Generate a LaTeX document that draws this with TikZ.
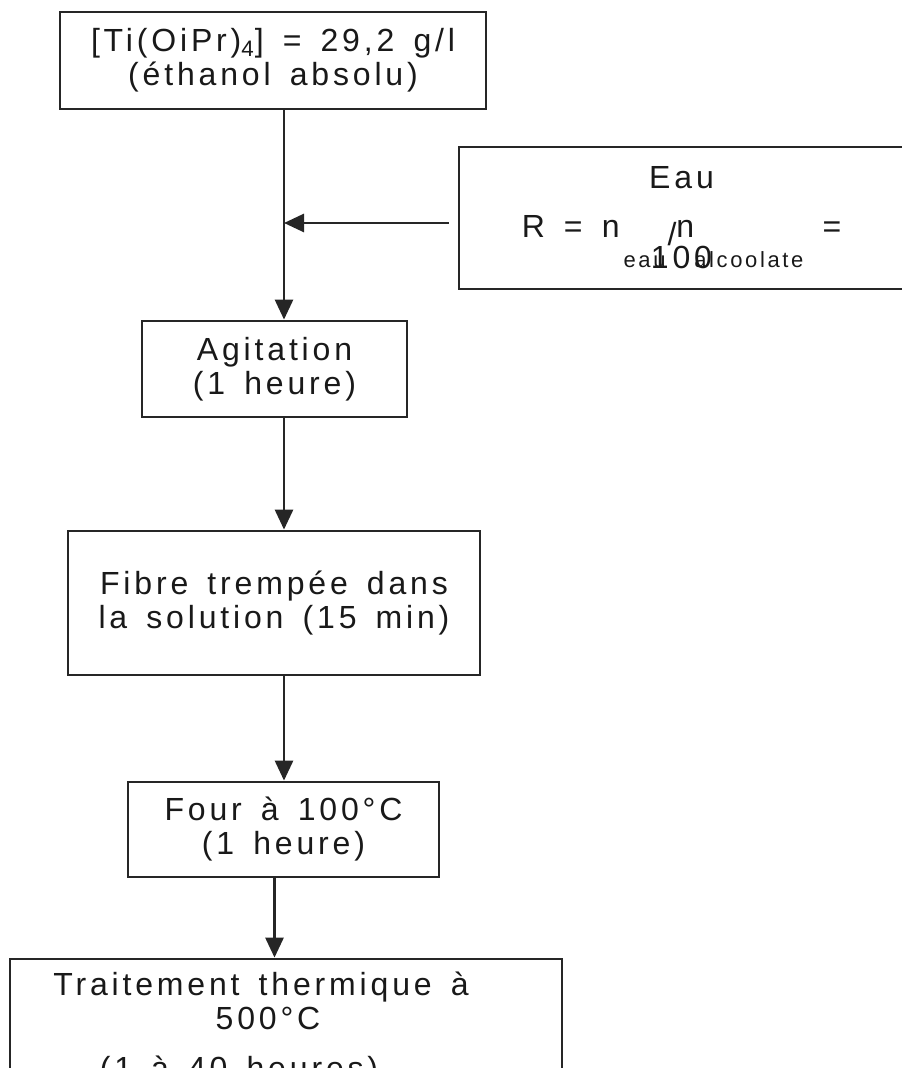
\documentclass[tikz,border=0pt]{standalone}
\usepackage{fontspec}
\setmainfont{Liberation Sans}[LetterSpace=12,WordSpace=1.5]
\usetikzlibrary{arrows.meta}

\begin{document}
\begin{tikzpicture}[x=0.5pt,y=-0.5pt,
  boite/.style={draw=black!85, line width=1.4pt, inner sep=0pt, align=center,
    text=black!90, font=\fontsize{16}{17}\selectfont},
  fleche/.style={draw=black!85, line width=1.4pt, -{Triangle[length=10pt,width=9pt]}}]
\useasboundingbox (0,0) rectangle (901,1068);
% boites
\node[boite, minimum width=213pt, minimum height=48.5pt] (reactif) at (273,60.5)
  {[Ti(OiPr)\textsubscript{4}] = 29,2 g/l\\(éthanol absolu)};
\node[boite, minimum width=222.5pt, minimum height=71pt] (eau) at (681.5,218)
  {Eau\\[7.5pt]R = n\kern2pt\raisebox{-15pt}[0pt][0pt]{\fontsize{11}{11}\selectfont eau}\kern1pt\raisebox{-4pt}[0pt][0pt]{/}n\raisebox{-15pt}[0pt][0pt]{\fontsize{11}{11}\selectfont alcoolate} =\\[-1.5pt]100};
\node[boite, minimum width=132.5pt, minimum height=48pt] (agitation) at (274.5,369)
  {Agitation\\(1 heure)};
\node[boite, minimum width=206pt, minimum height=72pt] (trempage) at (274,603)
  {Fibre trempée dans\\la solution (15 min)};
\node[boite, minimum width=155.5pt, minimum height=47.5pt] (four) at (283.5,829.5)
  {Four à 100°C\\(1 heure)};
\node[boite, minimum width=276pt, minimum height=70.5pt] (traitement) at (286,1029.5)
  {Traitement thermique à\kern25pt\\500°C\kern18pt\\[8pt](1 à 40 heures)\kern47pt};
% fleches
\coordinate (jonction) at (284,223);
\draw[fleche] (reactif.south -| jonction) -- (agitation.north -| jonction);
\draw[fleche, shorten <=4.5pt] (eau.west |- jonction) -- (jonction);
\draw[fleche] (agitation.south -| jonction) -- (trempage.north -| jonction);
\draw[fleche] (trempage.south -| jonction) -- (four.north -| jonction);
\coordinate (descente) at ([xshift=-4.5pt]four.south);
\draw[fleche] (descente) -- (descente |- traitement.north);
\end{tikzpicture}
\end{document}
